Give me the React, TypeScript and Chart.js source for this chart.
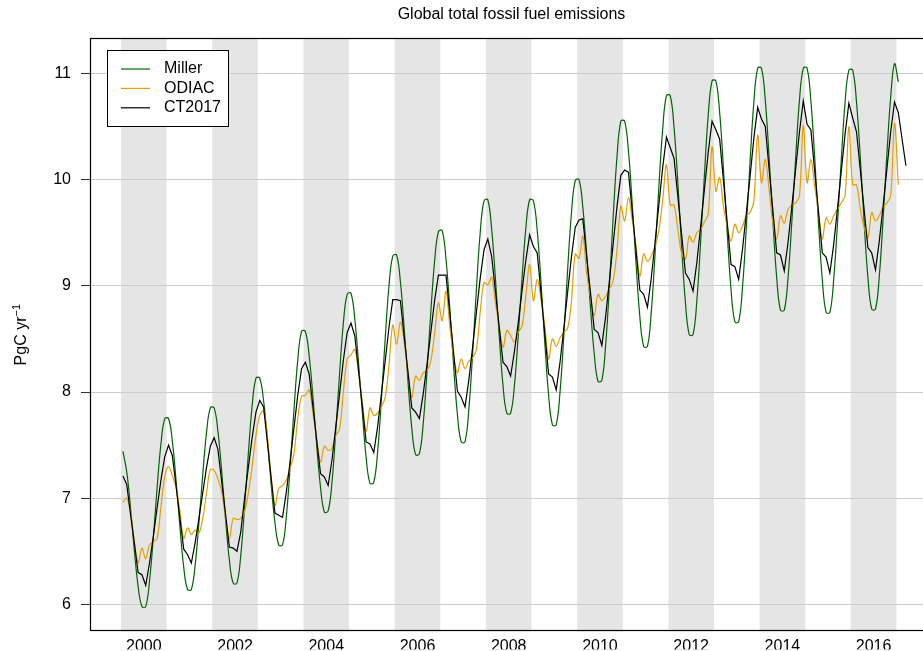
import React, { useEffect, useRef } from "react";
import { Chart, registerables } from "chart.js";

Chart.register(...registerables);

const FONT = "'Liberation Sans', Arial, Helvetica, sans-serif";
const TITLE = "Global total fossil fuel emissions";
const Y_LABEL = "PgC yr";
const Y_LABEL_SUP = "\u22121";
const START_YEAR = 2000;

const seriesNames = ["Miller", "ODIAC", "CT2017"];
const seriesColors = ["#006400", "#E69F00", "#000000"];

const xTickYears = [2000, 2002, 2004, 2006, 2008, 2010, 2012, 2014, 2016];
const shadedYears = [2000, 2002, 2004, 2006, 2008, 2010, 2012, 2014, 2016];
const yTickValues = [6, 7, 8, 9, 10, 11];

const X_MIN = 1999.32;
const X_MAX = 2017.89;
const Y_MIN = 5.746;
const Y_MAX = 11.333;

// Monthly values, Jan 2000 onwards
const miller = [
  7.44, 7.25, 6.91, 6.51, 6.17, 5.98, 5.98, 6.22, 6.63, 7.10, 7.51, 7.75,
  7.75, 7.54, 7.16, 6.73, 6.35, 6.14, 6.14, 6.37, 6.77, 7.22, 7.62, 7.85,
  7.85, 7.63, 7.25, 6.80, 6.42, 6.20, 6.20, 6.46, 6.91, 7.42, 7.87, 8.13,
  8.13, 7.92, 7.56, 7.13, 6.77, 6.56, 6.56, 6.83, 7.30, 7.83, 8.30, 8.57,
  8.57, 8.34, 7.95, 7.49, 7.10, 6.87, 6.88, 7.15, 7.63, 8.17, 8.65, 8.92,
  8.93, 8.69, 8.27, 7.80, 7.38, 7.14, 7.15, 7.43, 7.93, 8.50, 9.00, 9.28,
  9.29, 9.04, 8.60, 8.10, 7.66, 7.41, 7.42, 7.70, 8.19, 8.75, 9.23, 9.51,
  9.52, 9.25, 8.79, 8.25, 7.79, 7.53, 7.53, 7.83, 8.36, 8.97, 9.50, 9.80,
  9.81, 9.54, 9.07, 8.53, 8.06, 7.80, 7.80, 8.06, 8.53, 9.07, 9.54, 9.81,
  9.80, 9.52, 9.03, 8.46, 7.97, 7.69, 7.69, 8.00, 8.53, 9.15, 9.68, 9.99,
  10.00, 9.74, 9.30, 8.80, 8.36, 8.10, 8.11, 8.44, 9.00, 9.66, 10.22, 10.55,
  10.55, 10.27, 9.77, 9.21, 8.71, 8.43, 8.43, 8.75, 9.30, 9.93, 10.47, 10.79,
  10.79, 10.49, 9.97, 9.36, 8.84, 8.54, 8.54, 8.86, 9.42, 10.05, 10.61, 10.93,
  10.93, 10.63, 10.10, 9.49, 8.96, 8.66, 8.66, 8.98, 9.54, 10.17, 10.73, 11.05,
  11.05, 10.75, 10.21, 9.61, 9.08, 8.77, 8.77, 9.08, 9.61, 10.21, 10.75, 11.05,
  11.05, 10.74, 10.21, 9.59, 9.06, 8.75, 8.75, 9.06, 9.59, 10.19, 10.73, 11.03,
  11.03, 10.73, 10.21, 9.60, 9.08, 8.78, 8.78, 9.09, 9.63, 10.24, 10.78, 11.09,
  10.92,
];

const odiac = [
  6.96, 7.00, 6.87, 6.59, 6.39, 6.53, 6.43, 6.56, 6.59, 6.62, 6.92, 7.20,
  7.30, 7.21, 7.10, 6.88, 6.62, 6.72, 6.66, 6.70, 6.67, 6.81, 7.05, 7.27,
  7.26, 7.18, 7.06, 6.81, 6.62, 6.81, 6.80, 6.81, 6.87, 7.05, 7.30, 7.59,
  7.78, 7.82, 7.59, 7.20, 6.93, 7.09, 7.12, 7.17, 7.28, 7.42, 7.75, 7.96,
  7.97, 8.02, 7.80, 7.55, 7.34, 7.49, 7.45, 7.47, 7.59, 7.65, 8.00, 8.31,
  8.35, 8.40, 8.18, 7.90, 7.63, 7.85, 7.78, 7.80, 7.86, 7.95, 8.25, 8.63,
  8.45, 8.66, 8.47, 8.18, 7.95, 8.15, 8.11, 8.18, 8.20, 8.29, 8.55, 8.84,
  8.67, 8.95, 8.62, 8.34, 8.18, 8.31, 8.22, 8.29, 8.32, 8.40, 8.75, 9.03,
  9.01, 9.08, 8.84, 8.62, 8.42, 8.58, 8.53, 8.47, 8.56, 8.62, 8.90, 9.20,
  8.86, 9.06, 8.87, 8.62, 8.31, 8.50, 8.43, 8.51, 8.56, 8.60, 8.85, 9.30,
  9.26, 9.47, 9.12, 8.90, 8.72, 8.92, 8.86, 8.90, 8.97, 9.05, 9.34, 9.75,
  9.61, 9.83, 9.62, 9.37, 9.09, 9.30, 9.23, 9.28, 9.37, 9.52, 9.80, 10.14,
  9.76, 9.76, 9.53, 9.30, 9.25, 9.47, 9.41, 9.50, 9.53, 9.60, 9.68, 10.31,
  9.89, 10.02, 9.75, 9.56, 9.42, 9.58, 9.50, 9.56, 9.66, 9.69, 9.80, 10.42,
  9.97, 10.19, 9.91, 9.59, 9.44, 9.66, 9.59, 9.72, 9.76, 9.78, 9.85, 10.51,
  9.97, 10.19, 9.94, 9.69, 9.44, 9.64, 9.58, 9.66, 9.72, 9.78, 9.85, 10.50,
  9.95, 9.95, 9.72, 9.55, 9.45, 9.69, 9.61, 9.66, 9.74, 9.78, 9.85, 10.53,
  9.95,
];

const ct2017 = [
  7.21, 7.13, 6.85, 6.58, 6.30, 6.28, 6.18, 6.39, 6.64, 6.91, 7.17, 7.39,
  7.50, 7.40, 7.11, 6.81, 6.52, 6.47, 6.39, 6.58, 6.81, 7.05, 7.29, 7.49,
  7.57, 7.46, 7.15, 6.85, 6.54, 6.53, 6.50, 6.68, 7.00, 7.29, 7.57, 7.81,
  7.92, 7.86, 7.53, 7.19, 6.86, 6.84, 6.82, 7.06, 7.35, 7.66, 7.97, 8.22,
  8.28, 8.17, 7.86, 7.54, 7.23, 7.20, 7.12, 7.36, 7.67, 7.98, 8.30, 8.56,
  8.65, 8.53, 8.20, 7.86, 7.53, 7.51, 7.43, 7.67, 7.98, 8.29, 8.61, 8.87,
  8.87, 8.86, 8.52, 8.19, 7.85, 7.81, 7.75, 7.98, 8.26, 8.56, 8.86, 9.10,
  9.10, 9.10, 8.74, 8.37, 8.01, 7.95, 7.86, 8.11, 8.42, 8.75, 9.07, 9.34,
  9.44, 9.28, 8.95, 8.61, 8.28, 8.24, 8.15, 8.38, 8.65, 8.95, 9.24, 9.48,
  9.37, 9.31, 8.93, 8.55, 8.17, 8.14, 8.02, 8.28, 8.60, 8.94, 9.27, 9.55,
  9.62, 9.63, 9.28, 8.94, 8.59, 8.56, 8.44, 8.71, 9.05, 9.40, 9.75, 10.04,
  10.09, 10.07, 9.70, 9.33, 8.96, 8.92, 8.80, 9.07, 9.41, 9.76, 10.11, 10.40,
  10.30, 10.20, 9.84, 9.48, 9.12, 9.06, 8.95, 9.22, 9.56, 9.91, 10.26, 10.55,
  10.47, 10.38, 9.99, 9.59, 9.20, 9.18, 9.06, 9.34, 9.68, 10.03, 10.39, 10.68,
  10.57, 10.50, 10.10, 9.71, 9.31, 9.29, 9.14, 9.41, 9.75, 10.10, 10.45, 10.74,
  10.52, 10.47, 10.08, 9.70, 9.31, 9.27, 9.12, 9.39, 9.73, 10.08, 10.43, 10.72,
  10.58, 10.45, 10.09, 9.72, 9.36, 9.31, 9.15, 9.42, 9.75, 10.10, 10.45, 10.73,
  10.63, 10.38, 10.13,
];

const toPoints = (vals: number[]) =>
  vals.map((v, i) => ({ x: START_YEAR + (i + 0.5) / 12, y: v }));

const decorPlugin = {
  id: "decor",
  beforeDraw(chart: any) {
    const { ctx, chartArea: a, scales } = chart;
    const x = scales.x;
    ctx.save();
    ctx.fillStyle = "#e5e5e5";
    for (const yr of shadedYears) {
      const x0 = x.getPixelForValue(yr);
      const x1 = x.getPixelForValue(yr + 1);
      ctx.fillRect(x0, a.top, x1 - x0, a.bottom - a.top);
    }
    ctx.restore();
  },
  afterDraw(chart: any) {
    const { ctx, chartArea: a } = chart;
    ctx.save();
    // frame
    const l = Math.round(a.left) + 0.5;
    const t = Math.round(a.top) + 0.5;
    const r = Math.round(a.right) - 0.5;
    const b = Math.round(a.bottom) - 0.5;
    ctx.strokeStyle = "#000";
    ctx.lineWidth = 1.2;
    ctx.strokeRect(l, t, r - l, b - t);
    // title
    ctx.fillStyle = "#000";
    ctx.font = `16px ${FONT}`;
    ctx.textAlign = "center";
    ctx.textBaseline = "middle";
    ctx.fillText(TITLE, (a.left + a.right) / 2 - 2, 15);

    // y-axis label with superscript
    ctx.save();
    ctx.translate(25.5, (a.top + a.bottom) / 2);
    ctx.rotate(-Math.PI / 2);
    ctx.font = `16px ${FONT}`;
    const w1 = ctx.measureText(Y_LABEL).width;
    ctx.font = `11px ${FONT}`;
    const w2 = ctx.measureText(Y_LABEL_SUP).width;
    const start = -(w1 + w2) / 2;
    ctx.textAlign = "left";
    ctx.textBaseline = "alphabetic";
    ctx.font = `16px ${FONT}`;
    ctx.fillText(Y_LABEL, start, 0);
    ctx.font = `11px ${FONT}`;
    ctx.fillText(Y_LABEL_SUP, start + w1, -6);
    ctx.restore();

    // legend
    const lx = 107, ly = 50, lw = 122, lh = 77;
    ctx.fillStyle = "#fff";
    ctx.fillRect(lx, ly, lw, lh);
    ctx.strokeStyle = "#000";
    ctx.lineWidth = 1;
    ctx.strokeRect(lx + 0.5, ly + 0.5, lw - 1, lh - 1);
    ctx.font = `16px ${FONT}`;
    ctx.textAlign = "left";
    ctx.textBaseline = "middle";
    seriesNames.forEach((name, i) => {
      const yy = 69 + i * 19.4;
      ctx.strokeStyle = seriesColors[i];
      ctx.lineWidth = 1.2;
      ctx.beginPath();
      ctx.moveTo(121, yy);
      ctx.lineTo(150, yy);
      ctx.stroke();
      ctx.fillStyle = "#000";
      ctx.fillText(name, 164, yy);
    });
    ctx.restore();
  },
};

export default function App() {
  const canvasRef = useRef<HTMLCanvasElement | null>(null);

  useEffect(() => {
    if (!canvasRef.current) return;
    const seriesData = [miller, odiac, ct2017];
    const tensions = [0.4, 0.35, 0];
    const chart = new Chart(canvasRef.current, {
      type: "line",
      data: {
        datasets: seriesNames.map((name, i) => ({
          label: name,
          data: toPoints(seriesData[i]),
          borderColor: seriesColors[i],
          borderWidth: 1.2,
          pointRadius: 0,
          fill: false,
          tension: tensions[i],
          order: 2 - i,
        })),
      },
      options: {
        responsive: false,
        devicePixelRatio: 1,
        animation: false,
        events: [],
        layout: { padding: { left: 0, right: 3, top: 38, bottom: 0 } },
        plugins: {
          legend: { display: false },
          tooltip: { enabled: false },
          title: { display: false },
        },
        scales: {
          x: {
            type: "linear",
            min: X_MIN,
            max: X_MAX,
            grid: { display: false },
            border: { display: false },
            afterBuildTicks: (scale: any) => {
              scale.ticks = xTickYears.map((y) => ({ value: y + 0.5 }));
            },
            afterFit: (scale: any) => {
              scale.height = 18;
            },
            ticks: {
              autoSkip: false,
              maxRotation: 0,
              padding: -2,
              color: "#000",
              font: { family: FONT, size: 16 },
              callback: (value: any) => String(Math.round(Number(value) - 0.5)),
            },
          },
          y: {
            type: "linear",
            min: Y_MIN,
            max: Y_MAX,
            grid: {
              display: true,
              color: "#cccccc",
              lineWidth: 1,
              drawTicks: true,
              tickLength: 9,
              tickColor: "#333333",
            },
            border: { display: false },
            afterBuildTicks: (scale: any) => {
              scale.ticks = yTickValues.map((v) => ({ value: v }));
            },
            afterFit: (scale: any) => {
              scale.width = 90;
            },
            ticks: {
              padding: 10,
              color: "#000",
              font: { family: FONT, size: 16 },
              callback: (value: any) => String(value),
            },
          },
        },
      },
      plugins: [decorPlugin],
    } as any);
    return () => chart.destroy();
  }, []);

  return (
    <div
      style={{
        position: "fixed",
        left: 0,
        top: 0,
        width: 923,
        height: 651,
        overflow: "hidden",
        background: "#fff",
      }}
    >
      <canvas
        ref={canvasRef}
        width={940}
        height={651}
        style={{ width: 940, height: 651, display: "block" }}
      />
    </div>
  );
}
